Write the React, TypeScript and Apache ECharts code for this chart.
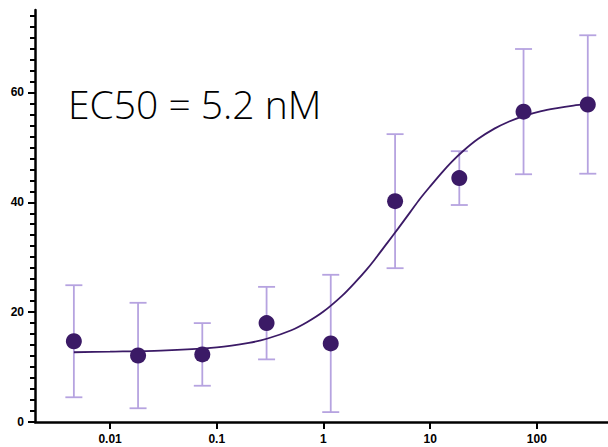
import React, { useEffect, useRef } from "react";
import * as echarts from "echarts";

// Concentrations (nM), 4-fold dilution series
const concentrations = [0.00458, 0.0183, 0.0732, 0.293, 1.17, 4.69, 18.75, 75, 300];
const means = [14.7, 12.1, 12.3, 18.0, 14.3, 40.2, 44.4, 56.5, 57.8];
const errors = [10.2, 9.6, 5.7, 6.6, 12.5, 12.2, 4.9, 11.4, 12.6];

// Fitted curve
const curveX = [0.00458, 0.01, 0.03, 0.1, 0.2, 0.3, 0.5, 0.7, 1, 1.5, 2, 2.5, 3, 4, 5, 6.5, 8, 10, 13, 16, 20, 28, 40, 55, 75, 110, 150, 220, 300];
const curveY = [12.7, 12.8, 13.0, 13.6, 14.4, 15.2, 16.7, 18.15, 20.1, 23.0, 25.5, 27.6, 29.5, 32.7, 35.2, 38.2, 40.6, 42.9, 45.5, 47.4, 49.2, 51.5, 53.4, 54.7, 55.7, 56.6, 57.1, 57.6, 57.9];

const xTickValues = [0.01, 0.1, 1, 10, 100];
const yMajorTicks = [0, 20, 40, 60];
const yMinorTicks = [0, 2, 4, 6, 8, 10, 12, 14, 16, 18, 20, 22, 24, 26, 28, 30, 32, 34, 36, 38, 40, 42, 44, 46, 48, 50, 52, 54, 56, 58, 60, 62, 64, 66, 68, 70, 72, 74];
const annotation = "EC50 = 5.2 nM";

const X_MIN = 0.00198;
const X_MAX = 464;
const Y_MIN = 0;
const Y_MAX = 75;

const POINT_COLOR = "#3b1a66";
const BAR_COLOR = "#b6a3e0";

export default function App() {
  const ref = useRef<HTMLDivElement>(null);
  useEffect(() => {
    if (!ref.current) return;
    const chart = echarts.init(ref.current, null, { renderer: "svg" });
    const errData = concentrations.map((c, i) => [c, means[i] - errors[i], means[i] + errors[i]]);
    const labelStyle = {
      fontFamily: "Liberation Sans, Arial, sans-serif",
      fontWeight: "bold" as const,
      fontSize: 12,
      color: "#000",
    };
    chart.setOption({
      animation: false,
      backgroundColor: "#fff",
      grid: { left: 35, top: 10, right: 0, bottom: 25, containLabel: false },
      xAxis: {
        type: "log",
        logBase: 10,
        min: X_MIN,
        max: X_MAX,
        axisLine: { show: true, lineStyle: { color: "#000", width: 2.5 } },
        axisTick: { show: true, length: 7, lineStyle: { color: "#000", width: 2 }, customValues: xTickValues },
        axisLabel: { ...labelStyle, margin: 11, customValues: xTickValues, formatter: (v: number) => String(v) },
        splitLine: { show: false },
        minorTick: { show: false },
      },
      yAxis: [
        {
          type: "value",
          min: Y_MIN,
          max: Y_MAX,
          axisLine: { show: true, lineStyle: { color: "#000", width: 2.5 } },
          axisTick: { show: true, length: 5, lineStyle: { color: "#000", width: 2 }, customValues: yMinorTicks },
          axisLabel: { show: false },
          splitLine: { show: false },
        },
        {
          type: "value",
          min: Y_MIN,
          max: Y_MAX,
          position: "left",
          axisLine: { show: false },
          axisTick: { show: true, length: 7, lineStyle: { color: "#000", width: 2 }, customValues: yMajorTicks },
          axisLabel: { ...labelStyle, margin: 11, customValues: yMajorTicks },
          splitLine: { show: false },
        },
      ],
      graphic: [
        {
          type: "text",
          left: 68,
          top: 84,
          style: {
            text: annotation,
            fontFamily: "Open Sans, sans-serif",
            fontWeight: 300,
            fontSize: 39,
            fill: "#000",
          },
        },
      ],
      series: [
        {
          type: "custom",
          z: 1,
          data: errData,
          renderItem: (params: any, api: any) => {
            const x = api.value(0);
            const lo = api.coord([x, api.value(1)]);
            const hi = api.coord([x, api.value(2)]);
            const hw = 8.5;
            const style = { stroke: BAR_COLOR, lineWidth: 1.8, fill: "none" };
            return {
              type: "group",
              children: [
                { type: "line", shape: { x1: lo[0], y1: lo[1], x2: hi[0], y2: hi[1] }, style },
                { type: "line", shape: { x1: lo[0] - hw, y1: lo[1], x2: lo[0] + hw, y2: lo[1] }, style },
                { type: "line", shape: { x1: hi[0] - hw, y1: hi[1], x2: hi[0] + hw, y2: hi[1] }, style },
              ],
            };
          },
        },
        {
          type: "line",
          z: 2,
          smooth: 0.3,
          showSymbol: false,
          symbol: "none",
          data: curveX.map((x, i) => [x, curveY[i]]),
          lineStyle: { color: POINT_COLOR, width: 1.8 },
        },
        {
          type: "scatter",
          z: 3,
          symbolSize: 16,
          data: concentrations.map((c, i) => [c, means[i]]),
          itemStyle: { color: POINT_COLOR, opacity: 1 },
        },
      ],
    });
    return () => chart.dispose();
  }, []);
  return <div ref={ref} style={{ position: "absolute", left: 0, top: 0, width: 608, height: 447 }} />;
}
